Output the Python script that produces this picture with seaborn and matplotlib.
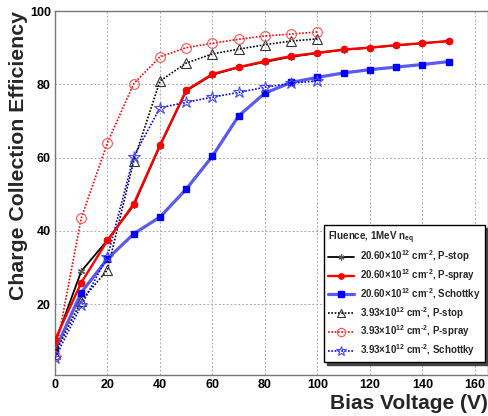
import numpy as np
import pandas as pd
import matplotlib
matplotlib.use("Agg")
import matplotlib.pyplot as plt
from matplotlib.ticker import MultipleLocator
import seaborn as sns

# Bias voltage points (V)
v_high = [0, 10, 20, 30, 40, 50, 60, 70, 80, 90, 100, 110, 120, 130, 140, 150]
v_low = [0, 10, 20, 30, 40, 50, 60, 70, 80, 90, 100]

# Charge collection efficiency, fluence 20.60e12 cm^-2
cce_pstop_hi = [9.5, 29.0, 37.5, 47.0, 63.2, 78.2, 82.6, 84.6, 86.1, 87.5, 88.5, 89.4, 90.0, 90.6, 91.2, 91.8]
cce_pspray_hi = [10.3, 25.9, 37.4, 47.4, 63.4, 78.4, 82.8, 84.7, 86.3, 87.7, 88.6, 89.5, 90.0, 90.7, 91.2, 91.8]
cce_schottky_hi = [7.4, 23.2, 32.4, 39.2, 43.8, 51.4, 60.4, 71.4, 77.6, 80.5, 81.9, 83.1, 84.0, 84.7, 85.4, 86.2]

# Charge collection efficiency, fluence 3.93e12 cm^-2
cce_pstop_lo = [6.5, 21.0, 29.4, 59.1, 80.9, 85.8, 88.3, 89.6, 90.8, 91.8, 92.4]
cce_pspray_lo = [6.0, 43.5, 64.1, 80.2, 87.5, 90.0, 91.2, 92.3, 93.2, 93.7, 94.3]
cce_schottky_lo = [5.3, 19.7, 33.0, 60.3, 73.6, 75.1, 76.5, 77.8, 79.2, 80.3, 80.9]

labels = [
    r"20.60$\times$10$^{12}$ cm$^{\text{-}2}$, P-stop",
    r"20.60$\times$10$^{12}$ cm$^{\text{-}2}$, P-spray",
    r"20.60$\times$10$^{12}$ cm$^{\text{-}2}$, Schottky",
    r"3.93$\times$10$^{12}$ cm$^{\text{-}2}$, P-stop",
    r"3.93$\times$10$^{12}$ cm$^{\text{-}2}$, P-spray",
    r"3.93$\times$10$^{12}$ cm$^{\text{-}2}$, Schottky",
]

sns.set_theme(style="white")
plt.rcParams["font.family"] = ["Liberation Sans", "DejaVu Sans"]
plt.rcParams["font.weight"] = "bold"
plt.rcParams["mathtext.fontset"] = "custom"
plt.rcParams["mathtext.rm"] = "Liberation Sans:bold"
plt.rcParams["mathtext.bf"] = "Liberation Sans:bold"
plt.rcParams["mathtext.default"] = "bf"

fig = plt.figure(figsize=(4.89, 4.16), dpi=100)
ax = fig.add_axes([55 / 489, 41 / 416, 433 / 489, 364 / 416])

series = [
    (v_high, cce_pstop_hi, dict(color="black", lw=1.3, ls="-", marker=(6, 2, 0), ms=5,
                                mec="#555555", mew=0.9, zorder=3)),
    (v_high, cce_pspray_hi, dict(color="red", lw=1.7, ls="-", marker="o", ms=4.5,
                                 mec="red", mfc="red", zorder=4)),
    (v_high, cce_schottky_hi, dict(color="#5a5af0", lw=2.3, ls="-", marker="s", ms=5,
                                   mec="blue", mfc="blue", zorder=2)),
    (v_low, cce_pstop_lo, dict(color="black", lw=1.2, ls=(0, (1, 1)), marker="^", ms=7,
                               mec="#333333", mfc="none", mew=0.8, zorder=3)),
    (v_low, cce_pspray_lo, dict(color="red", lw=1.2, ls=(0, (1, 1)), marker="o", ms=7,
                                mec="#ff5050", mfc="none", mew=0.8, zorder=3)),
    (v_low, cce_schottky_lo, dict(color="blue", lw=1.2, ls=(0, (1, 1)), marker="*", ms=9,
                                  mec="#4a4aff", mfc="none", mew=0.8, zorder=3)),
]

handles = []
for (x, y, st), lab in zip(series, labels):
    df = pd.DataFrame({"V": x, "CCE": y})
    sns.lineplot(data=df, x="V", y="CCE", ax=ax, color=st["color"], linewidth=st["lw"],
                 linestyle=st["ls"], marker=st["marker"], markersize=st["ms"],
                 markeredgecolor=st["mec"], markerfacecolor=st.get("mfc", st["color"]),
                 markeredgewidth=st.get("mew", 1.0), zorder=st["zorder"],
                 label=lab, legend=False, errorbar=None)
    handles.append(ax.get_lines()[-1])

ax.set_xlim(0, 165)
ax.set_ylim(0.7, 100)
ax.xaxis.set_major_locator(MultipleLocator(20))
ax.xaxis.set_minor_locator(MultipleLocator(5))
ax.yaxis.set_major_locator(MultipleLocator(20))
ax.yaxis.set_minor_locator(MultipleLocator(5))
ax.tick_params(axis="both", which="major", direction="in", length=7, width=0.8,
               colors="#555555", labelcolor="black", labelsize=9, pad=3,
               top=False, right=False)
ax.tick_params(axis="both", which="minor", direction="in", length=4, width=0.8,
               colors="#555555", top=False, right=False)
for lab in ax.get_xticklabels() + ax.get_yticklabels():
    lab.set_fontweight("bold")

ax.grid(True, which="major", color="#aaaaaa", linestyle=(0, (2, 2)), linewidth=0.7)
for s in ax.spines.values():
    s.set_color("#777777")
    s.set_linewidth(1.0)

ax.set_xlabel("Bias Voltage (V)", fontsize=15, fontweight="bold", loc="right", labelpad=2)
ax.set_ylabel("Charge Collection Efficiency", fontsize=15.3, fontweight="bold", loc="top",
              labelpad=1)

leg = ax.legend(handles=handles, labels=labels, loc="lower right",
                bbox_to_anchor=(0.993, 0.036), title=r"Fluence, 1MeV n$_{eq}$",
                alignment="left", fontsize=7, title_fontsize=7, frameon=True,
                fancybox=False, shadow={"color": "#444444", "alpha": 1.0},
                edgecolor="black", handlelength=2.6, handletextpad=0.7,
                labelspacing=0.3, borderpad=0.4, borderaxespad=0.0, framealpha=1.0,
                markerscale=0.85)
leg.get_frame().set_linewidth(1.0)
for t in leg.get_texts():
    t.set_fontweight("bold")
leg.get_title().set_fontweight("bold")

fig.savefig("out.png", dpi=100)
